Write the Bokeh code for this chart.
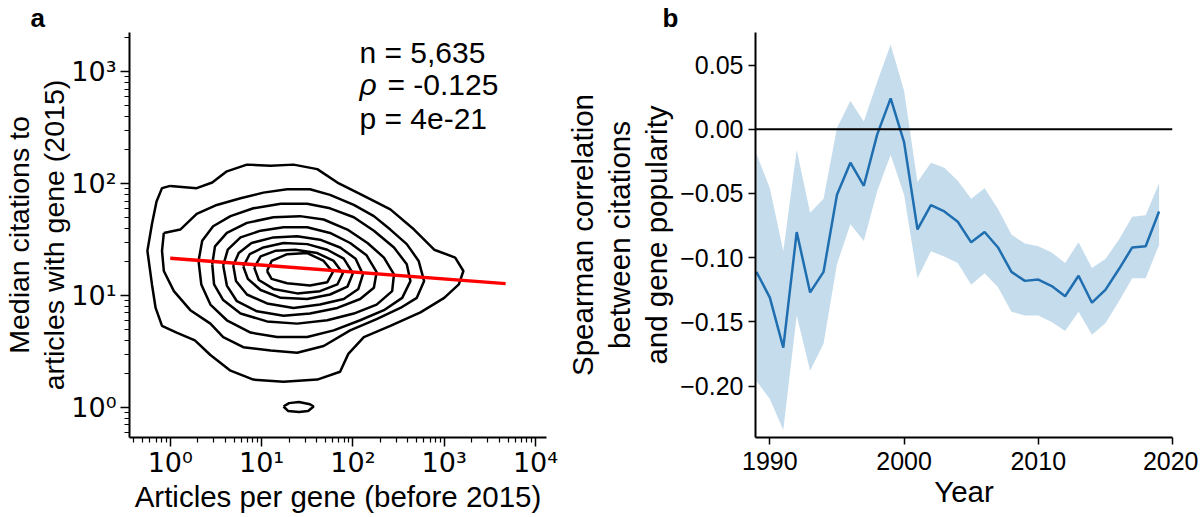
import numpy as np
from bokeh.plotting import figure
from bokeh.layouts import row
from bokeh.models import FixedTicker, CustomJSTickFormatter, Label, Span, Range1d, Title
from bokeh.embed import file_html
from bokeh.resources import INLINE

# ---------------- panel a: density contours, in log10 units ----------------
# each ring: log10(articles per gene), log10(median citations)
contour_lx = [
    [0.00, 0.29, 0.46, 0.62, 0.84, 1.10, 1.35, 1.61, 1.83, 2.12, 2.41, 2.67, 2.89, 3.12, 3.21,
     3.16, 3.00, 2.74, 2.41, 2.12, 1.95, 1.86, 1.61, 1.24, 0.91, 0.66, 0.44, 0.27, 0.07, -0.09,
     -0.16, -0.20, -0.25, -0.20, -0.15, -0.09],
    [-0.07, 0.11, 0.29, 0.51, 0.77, 1.02, 1.28, 1.53, 1.75, 2.01, 2.23, 2.41, 2.59, 2.72, 2.78,
     2.70, 2.52, 2.26, 1.97, 1.68, 1.39, 1.10, 0.80, 0.58, 0.44, 0.22, 0.04, -0.07, -0.09],
    [0.31, 0.35, 0.47, 0.66, 0.91, 1.21, 1.50, 1.75, 2.01, 2.23, 2.45, 2.59, 2.63, 2.54, 2.34,
     2.08, 1.79, 1.50, 1.17, 0.88, 0.62, 0.44, 0.34],
    [0.46, 0.49, 0.62, 0.84, 1.13, 1.42, 1.68, 1.94, 2.16, 2.34, 2.45, 2.43, 2.26, 2.01, 1.72,
     1.39, 1.06, 0.77, 0.58, 0.48],
    [0.58, 0.63, 0.77, 0.99, 1.24, 1.50, 1.75, 1.97, 2.15, 2.26, 2.23, 2.08, 1.83, 1.53, 1.24,
     0.95, 0.73, 0.62],
    [0.69, 0.75, 0.89, 1.13, 1.39, 1.64, 1.86, 2.03, 2.11, 2.06, 1.90, 1.64, 1.35, 1.06, 0.84, 0.72],
    [0.80, 0.87, 1.02, 1.24, 1.50, 1.72, 1.90, 2.00, 1.94, 1.75, 1.50, 1.21, 0.99, 0.85],
    [0.92, 0.99, 1.15, 1.37, 1.61, 1.79, 1.89, 1.83, 1.64, 1.39, 1.13, 0.97],
    [1.06, 1.11, 1.28, 1.50, 1.68, 1.78, 1.72, 1.53, 1.28, 1.11],
    [1.24, 1.30, 1.41, 1.53, 1.57, 1.51, 1.41, 1.29],
]
contour_ly = [
    [1.98, 1.96, 2.01, 2.11, 2.17, 2.16, 2.17, 2.13, 2.01, 1.89, 1.77, 1.59, 1.41, 1.34, 1.22,
     1.10, 0.98, 0.85, 0.73, 0.63, 0.48, 0.32, 0.25, 0.23, 0.25, 0.33, 0.47, 0.60, 0.67, 0.73,
     0.89, 1.10, 1.40, 1.64, 1.84, 1.96],
    [1.56, 1.59, 1.73, 1.81, 1.87, 1.92, 1.95, 1.95, 1.90, 1.81, 1.71, 1.59, 1.46, 1.31, 1.13,
     0.98, 0.89, 0.79, 0.69, 0.55, 0.49, 0.51, 0.54, 0.63, 0.75, 0.87, 1.04, 1.22, 1.40],
    [1.31, 1.49, 1.62, 1.71, 1.78, 1.82, 1.82, 1.78, 1.70, 1.58, 1.43, 1.28, 1.13, 0.98, 0.87,
     0.78, 0.69, 0.63, 0.63, 0.67, 0.78, 0.92, 1.10],
    [1.28, 1.44, 1.56, 1.65, 1.70, 1.71, 1.68, 1.59, 1.47, 1.34, 1.19, 1.04, 0.92, 0.84, 0.78,
     0.75, 0.77, 0.84, 0.96, 1.10],
    [1.27, 1.41, 1.52, 1.58, 1.61, 1.61, 1.56, 1.47, 1.36, 1.21, 1.07, 0.97, 0.89, 0.84, 0.82,
     0.86, 0.95, 1.09],
    [1.27, 1.38, 1.47, 1.52, 1.53, 1.50, 1.43, 1.33, 1.19, 1.06, 0.97, 0.92, 0.89, 0.93, 1.01, 1.13],
    [1.26, 1.37, 1.43, 1.47, 1.46, 1.41, 1.33, 1.20, 1.08, 1.01, 0.97, 0.98, 1.05, 1.15],
    [1.25, 1.35, 1.40, 1.41, 1.38, 1.31, 1.20, 1.10, 1.04, 1.02, 1.06, 1.14],
    [1.22, 1.31, 1.37, 1.38, 1.31, 1.21, 1.12, 1.09, 1.11, 1.15],
    [0.01, 0.04, 0.05, 0.03, 0.01, -0.03, -0.04, -0.03],
]

# fitted trend line (articles, citations)
fit_x = [1, 4700]
fit_y = [21.6, 12.8]

stat_n = "n = 5,635"
stat_rho = "= -0.125"
stat_p = "p = 4e-21"

# ---------------- panel b: yearly spearman correlation ----------------
years = list(range(1989, 2020))
rho = [-0.111, -0.131, -0.170, -0.080, -0.127, -0.111, -0.051, -0.026, -0.044, -0.004,
       0.024, -0.010, -0.078, -0.059, -0.064, -0.072, -0.088, -0.080, -0.092, -0.111,
       -0.118, -0.117, -0.122, -0.130, -0.114, -0.135, -0.125, -0.109, -0.092, -0.091, -0.064]
rho_hi = [-0.019, -0.046, -0.095, -0.016, -0.065, -0.054, 0.001, 0.022, 0.006, 0.037,
          0.066, 0.030, -0.041, -0.026, -0.030, -0.040, -0.054, -0.046, -0.062, -0.082,
          -0.089, -0.091, -0.096, -0.104, -0.088, -0.108, -0.101, -0.086, -0.068, -0.067, -0.042]
rho_lo = [-0.196, -0.210, -0.234, -0.145, -0.188, -0.167, -0.105, -0.074, -0.087, -0.048,
          -0.020, -0.051, -0.116, -0.095, -0.099, -0.104, -0.121, -0.112, -0.123, -0.142,
          -0.145, -0.145, -0.150, -0.157, -0.142, -0.160, -0.151, -0.134, -0.116, -0.116, -0.090]

LBL_FONT = "Liberation Sans"


def style_axes(p, tick_font):
    p.outline_line_color = None
    p.grid.grid_line_color = None
    for ax in (p.xaxis, p.yaxis):
        ax.axis_line_width = 2
        ax.axis_line_color = "black"
        ax.major_tick_line_width = 1.5
        ax.minor_tick_line_width = 1.2
        ax.major_tick_line_color = "black"
        ax.minor_tick_line_color = "black"
        ax.major_tick_in = 0
        ax.minor_tick_in = 0
        ax.major_label_text_font = tick_font
        ax.major_label_text_color = "black"
        ax.axis_label_text_font = LBL_FONT
        ax.axis_label_text_font_style = "normal"
        ax.axis_label_text_color = "black"
        ax.axis_label_text_font_size = "29.5px"
        ax.axis_label_standoff = 0


def panel_letter(letter, shift):
    return Title(text=letter, align="left", offset=shift, standoff=0, text_font=LBL_FONT,
                 text_font_size="26px", text_font_style="bold", text_color="black")


# ---------------- figure a ----------------
pa = figure(width=560, height=517, x_axis_type="log", y_axis_type="log",
            x_range=Range1d(10 ** -0.446, 10 ** 4.12), y_range=Range1d(10 ** -0.267, 10 ** 3.35),
            min_border_left=129, min_border_right=14, min_border_top=31, min_border_bottom=80,
            output_backend="svg", toolbar_location=None)
style_axes(pa, "DejaVu Sans")
pa.title = panel_letter("a", -99)

xs = []
ys = []
for lx, ly in zip(contour_lx, contour_ly):
    xs.append(list(10 ** np.array(lx + lx[:1])))
    ys.append(list(10 ** np.array(ly + ly[:1])))
pa.multi_line(xs, ys, line_color="black", line_width=2.5)
pa.line(fit_x, fit_y, line_color="red", line_width=3.5)

sup = "{'-1':'\u207b\u00b9','0':'\u2070','1':'\u00b9','2':'\u00b2','3':'\u00b3','4':'\u2074'}"
log_fmt = CustomJSTickFormatter(code="const s=" + sup + "; return '10' + s[String(Math.round(Math.log10(tick)))];")
pa.xaxis.ticker = FixedTicker(ticks=[1, 10, 100, 1000, 10000],
                              minor_ticks=[k * 10 ** n for n in range(-1, 4) for k in range(2, 10)])
pa.yaxis.ticker = FixedTicker(ticks=[1, 10, 100, 1000],
                              minor_ticks=[k * 10 ** n for n in range(-1, 4) for k in range(2, 10)])
pa.xaxis.formatter = log_fmt
pa.yaxis.formatter = log_fmt
for ax in (pa.xaxis, pa.yaxis):
    ax.major_label_text_font_size = "27px"
    ax.major_tick_out = 9
    ax.minor_tick_out = 5
    ax.major_label_standoff = 4
pa.xaxis.major_label_standoff = 0
pa.xaxis.axis_label_standoff = -1
pa.yaxis.axis_label_text_font_size = "28.5px"
pa.yaxis.axis_label_text_line_height = 1.1
pa.yaxis.axis_label_standoff = -2
pa.xaxis.axis_label = "Articles per gene (before 2015)"
pa.yaxis.axis_label = "Median citations to\narticles with gene (2015)"

for txt, yv in ((stat_n, 1050), (stat_p, 274)):
    pa.add_layout(Label(x=118, y=yv, text=txt, text_font=LBL_FONT, text_font_size="30px",
                        text_color="black"))
pa.add_layout(Label(x=118, y=542, text="\u03c1", text_font=LBL_FONT, text_font_size="30px",
                    text_font_style="italic", text_color="black"))
pa.add_layout(Label(x=118, y=542, x_offset=28, text=stat_rho, text_font=LBL_FONT,
                    text_font_size="30px", text_color="black"))

# ---------------- figure b ----------------
pb = figure(width=638, height=517, x_range=Range1d(1988.93, 2020), y_range=Range1d(-0.2399, 0.0753),
            min_border_left=195, min_border_right=26, min_border_top=31, min_border_bottom=80,
            output_backend="svg", toolbar_location=None)
style_axes(pb, LBL_FONT)
pb.title = panel_letter("b", -93)
pb.varea(x=years, y1=rho_lo, y2=rho_hi, fill_color="#1f77b4", fill_alpha=0.26)
pb.line(years, rho, line_color="#1f6fb0", line_width=2.5)
pb.add_layout(Span(location=0, dimension="width", line_color="black", line_width=2))

pb.xaxis.ticker = FixedTicker(ticks=[1990, 2000, 2010, 2020], minor_ticks=[])
pb.yaxis.ticker = FixedTicker(ticks=[-0.20, -0.15, -0.10, -0.05, 0.0, 0.05], minor_ticks=[])
pb.yaxis.formatter = CustomJSTickFormatter(
    code="return (tick < -1e-9 ? '\u2212' : '') + Math.abs(tick).toFixed(2);")
for ax in (pb.xaxis, pb.yaxis):
    ax.major_label_text_font_size = "25px"
    ax.major_tick_out = 7
    ax.minor_tick_out = 0
    ax.major_label_standoff = 5
pb.xaxis.major_label_standoff = 7
pb.xaxis.axis_label_standoff = 2
pb.yaxis.axis_label_text_line_height = 1.12
pb.yaxis.axis_label_standoff = 4
pb.xaxis.axis_label = "Year"
pb.yaxis.axis_label = "Spearman correlation\nbetween citations\nand gene popularity"

layout = row(pa, pb)
open("out.html", "w").write(file_html(layout, INLINE))
